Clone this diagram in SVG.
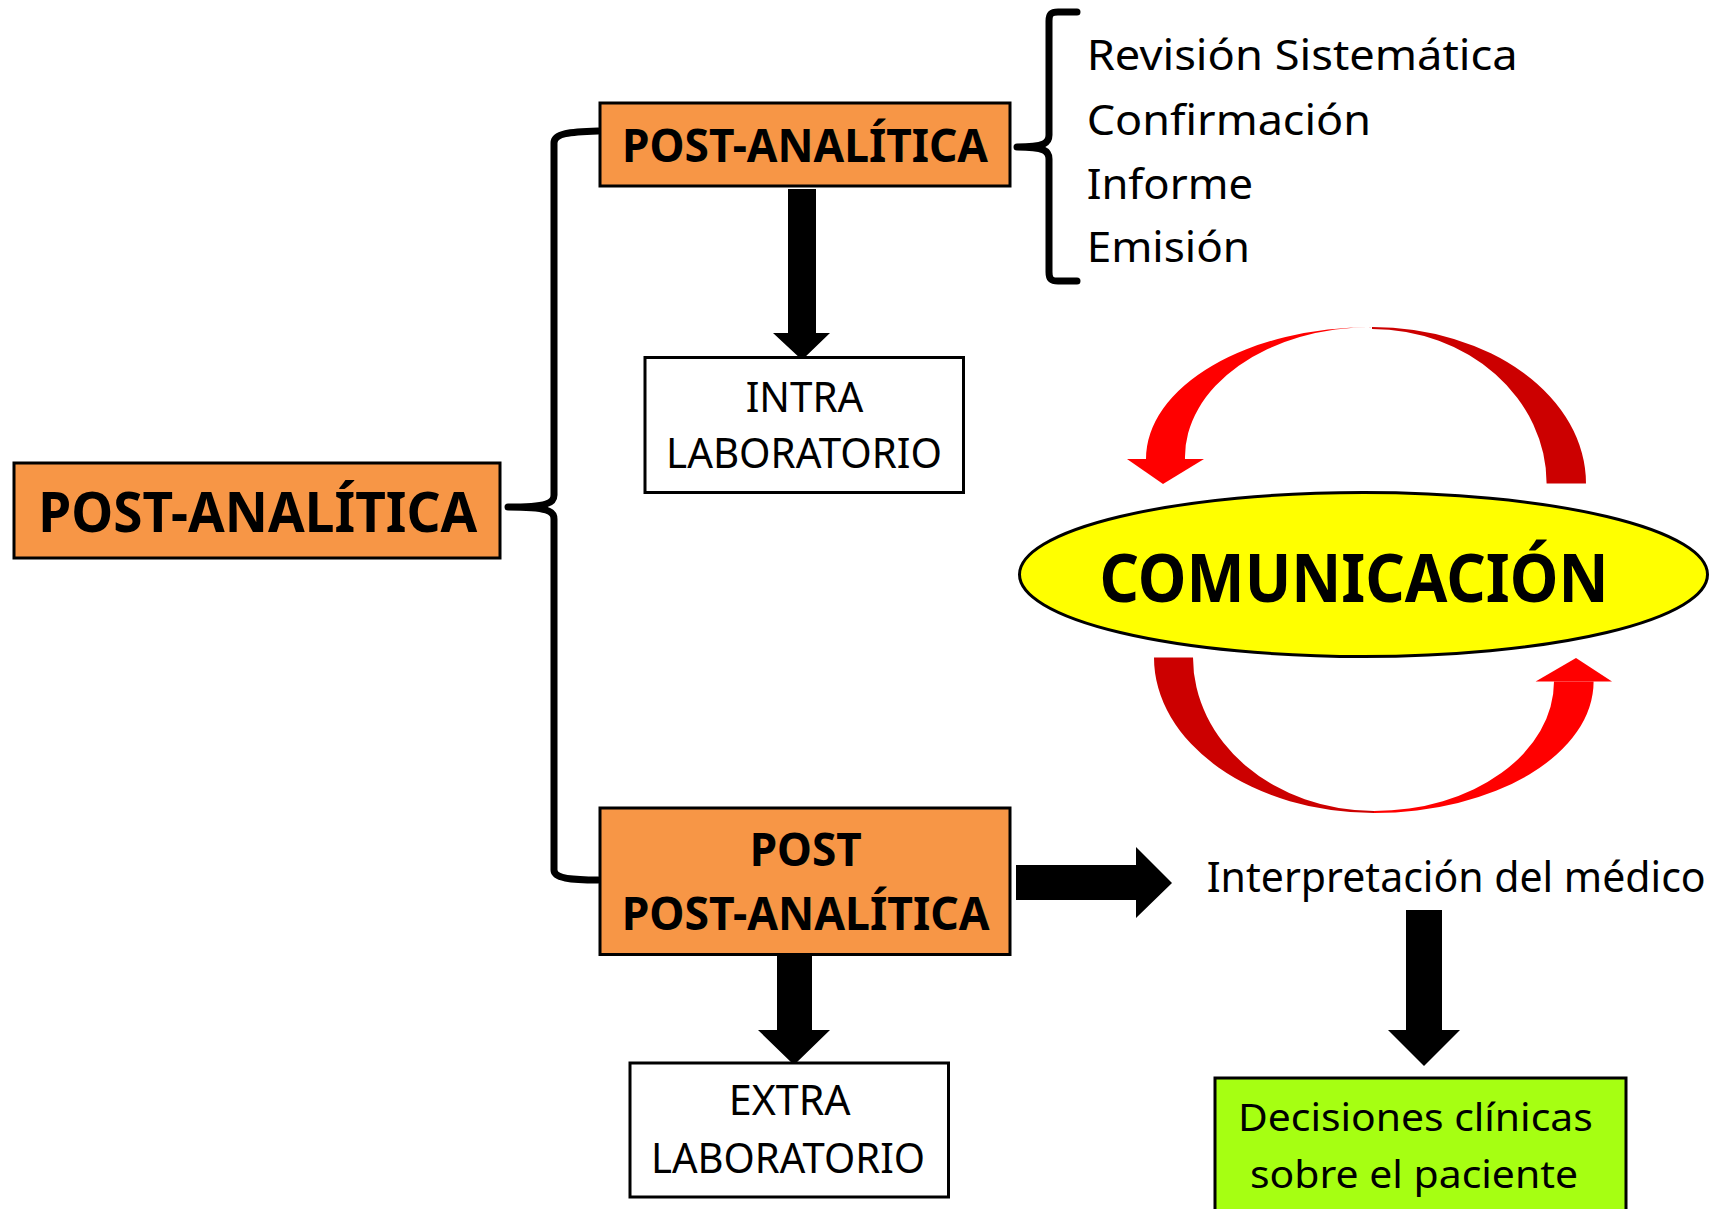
<svg xmlns="http://www.w3.org/2000/svg" width="1716" height="1209" viewBox="0 0 1716 1209">
<style>
.t{font-family:"Noto Sans","Open Sans","DejaVu Sans",sans-serif;fill:#000}
.b{font-weight:bold}
.box{stroke:#000;stroke-width:3}
.org{fill:#F79646}
.wht{fill:#FFFFFF}
.brace{fill:none;stroke:#000;stroke-width:7;stroke-linecap:round;stroke-linejoin:round}
.blk{fill:#000}
</style>
<rect width="1716" height="1209" fill="#FFFFFF"/>

<g id="connectors">
  <path class="brace" d="M 598 131 C 570 132 554 133 554 143 L 554 495 C 554 503 548 507 508 507 C 548 507 554 511 554 519 L 554 870 C 554 878 570 880 598 880"/>
  <path class="brace" d="M 1077 12 L 1058 12 C 1051 12 1049 14 1049 21 L 1049 135 C 1049 143 1045 147 1017 147 C 1045 147 1049 151 1049 159 L 1049 272 C 1049 279 1051 281 1058 281 L 1077 281"/>
  <polygon class="blk" points="788,189 816,189 816,333 830,333 802,360 773,333 788,333"/>
  <polygon class="blk" points="777,956 812,956 812,1030 830,1030 794,1065 758,1030 777,1030"/>
  <polygon class="blk" points="1016,865 1136,865 1136,847 1172,883 1136,918 1136,900 1016,900"/>
  <polygon class="blk" points="1406,910 1442,910 1442,1030 1460,1030 1424,1066 1388,1030 1406,1030"/>
</g>

<g id="cycle-arrows">
  <path fill="#FF0000" d="M 1146 459 A 226 132 0 0 1 1372 327 A 187 130 0 0 0 1185 459 Z"/>
  <polygon fill="#FF0000" points="1127,459 1204,459 1163,484"/>
  <path fill="#CC0000" d="M 1372 327 A 214 156.5 0 0 1 1586 483.5 L 1546.6 483.5 A 174.6 154.5 0 0 0 1372 329 Z"/>
  <path fill="#CC0000" d="M 1154 657.4 A 220 155.6 0 0 0 1374 813 L 1374 811 A 181 153.6 0 0 1 1193 657.4 Z"/>
  <path fill="#FF0000" d="M 1374 813 A 219.6 131.5 0 0 0 1593.6 681.5 L 1554 681.5 A 180 129.5 0 0 1 1374 811 Z"/>
  <polygon fill="#FF0000" points="1535.6,681.5 1612,681.5 1576,658"/>
</g>

<g id="node-post-analitica-main">
  <rect class="box org" x="14" y="463" width="486" height="95"/>
  <text class="t b" x="38.3" y="531.7" font-size="56" textLength="439" lengthAdjust="spacingAndGlyphs">POST-ANALÍTICA</text>
</g>

<g id="node-post-analitica">
  <rect class="box org" x="600" y="103" width="410" height="83"/>
  <text class="t b" x="622" y="161.7" font-size="47" textLength="366" lengthAdjust="spacingAndGlyphs">POST-ANALÍTICA</text>
</g>

<g id="node-intra">
  <rect class="box wht" x="645" y="357.5" width="318.5" height="135"/>
  <text class="t" x="745.7" y="411.7" font-size="42" textLength="117.7" lengthAdjust="spacingAndGlyphs">INTRA</text>
  <text class="t" x="666" y="468" font-size="42" textLength="276" lengthAdjust="spacingAndGlyphs">LABORATORIO</text>
</g>

<g id="node-list">
  <text class="t" x="1086.7" y="70" font-size="41" textLength="431" lengthAdjust="spacingAndGlyphs">Revisión Sistemática</text>
  <text class="t" x="1086.7" y="135" font-size="41" textLength="284.3" lengthAdjust="spacingAndGlyphs">Confirmación</text>
  <text class="t" x="1086.7" y="199" font-size="41" textLength="166.3" lengthAdjust="spacingAndGlyphs">Informe</text>
  <text class="t" x="1086.7" y="261.7" font-size="41" textLength="163.3" lengthAdjust="spacingAndGlyphs">Emisión</text>
</g>

<g id="node-comunicacion">
  <ellipse cx="1363.5" cy="574.5" rx="344" ry="82" fill="#FFFF00" stroke="#000" stroke-width="3"/>
  <text class="t b" x="1099.5" y="602.3" font-size="66" textLength="509" lengthAdjust="spacingAndGlyphs">COMUNICACIÓN</text>
</g>

<g id="node-post-post">
  <rect class="box org" x="600" y="808" width="410" height="146.5"/>
  <text class="t b" x="749.7" y="866" font-size="47" textLength="112" lengthAdjust="spacingAndGlyphs">POST</text>
  <text class="t b" x="621.7" y="930" font-size="47" textLength="368" lengthAdjust="spacingAndGlyphs">POST-ANALÍTICA</text>
</g>

<g id="node-extra">
  <rect class="box wht" x="630" y="1063" width="318.5" height="134"/>
  <text class="t" x="728.8" y="1115" font-size="42" textLength="121.7" lengthAdjust="spacingAndGlyphs">EXTRA</text>
  <text class="t" x="651" y="1173" font-size="42" textLength="274" lengthAdjust="spacingAndGlyphs">LABORATORIO</text>
</g>

<g id="node-interpretacion">
  <text class="t" x="1206.7" y="891.7" font-size="42" textLength="499" lengthAdjust="spacingAndGlyphs">Interpretación del médico</text>
</g>

<g id="node-decisiones">
  <rect class="box" fill="#A6FF12" x="1215" y="1078" width="411" height="150"/>
  <text class="t" x="1238" y="1130.7" font-size="39" textLength="354.7" lengthAdjust="spacingAndGlyphs">Decisiones clínicas</text>
  <text class="t" x="1250" y="1188" font-size="39" textLength="328" lengthAdjust="spacingAndGlyphs">sobre el paciente</text>
</g>
</svg>
